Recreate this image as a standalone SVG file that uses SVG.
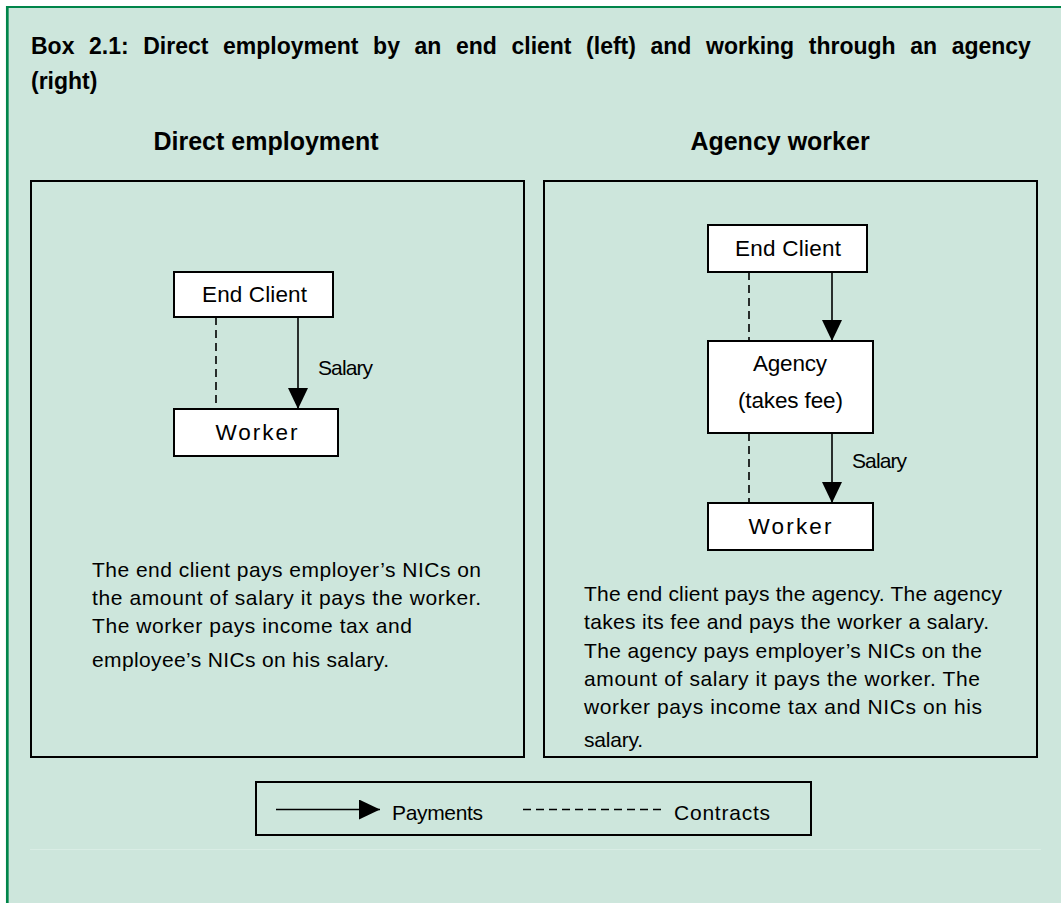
<svg xmlns="http://www.w3.org/2000/svg" width="1061" height="903" viewBox="0 0 1061 903">
<defs>
<style>
.t{font-family:"Liberation Sans",Arial,sans-serif;fill:#000;}
.title{font-size:23px;font-weight:bold;}
.head{font-size:25px;font-weight:bold;text-anchor:middle;}
.lbl{font-size:21px;}
.nl{font-size:22.5px;}
.mid{text-anchor:middle;}
.body{font-size:21px;}
.node{fill:#fff;stroke:#000;stroke-width:2;}
.panel{fill:none;stroke:#000;stroke-width:2;}
.pay{stroke:#000;stroke-width:1.6;fill:none;}
.con{stroke:#000;stroke-width:1.6;fill:none;stroke-dasharray:8 5;}
</style>
<marker id="ah" markerUnits="userSpaceOnUse" markerWidth="22" markerHeight="22" refX="21" refY="10" orient="auto" viewBox="0 0 22 22">
<path d="M0,0 L21,10 L0,20 Z" fill="#000"/>
</marker>
</defs>

<rect x="0" y="0" width="1061" height="903" fill="#ffffff"/>
<rect x="7" y="7" width="1054" height="896" fill="#cde6dc"/>
<line x1="6" y1="7" x2="1061" y2="7" stroke="#00854a" stroke-width="2"/>
<line x1="7.3" y1="6" x2="7.3" y2="903" stroke="#00854a" stroke-width="2.7"/>
<line x1="30" y1="849.5" x2="1041" y2="849.5" stroke="#d9ede5" stroke-width="1"/>

<g id="title">
<text class="t title" x="31" y="54" word-spacing="8.2">Box 2.1: Direct employment by an end client (left) and working through an agency</text>
<text class="t title" x="31" y="89">(right)</text>
</g>

<g id="panel-direct">
<text class="t head" x="266" y="150">Direct employment</text>
<rect class="panel" x="31" y="181" width="493" height="576"/>
<text class="t body" x="92" y="577" textLength="389">The end client pays employer’s NICs on</text>
<text class="t body" x="92" y="605" textLength="389">the amount of salary it pays the worker.</text>
<text class="t body" x="92" y="633" textLength="320">The worker pays income tax and</text>
<text class="t body" x="92" y="667" textLength="297">employee’s NICs on his salary.</text>
</g>

<g id="panel-agency">
<text class="t head" x="780" y="150">Agency worker</text>
<rect class="panel" x="544" y="181" width="493" height="576"/>
<text class="t body" x="584" y="601" textLength="418">The end client pays the agency. The agency</text>
<text class="t body" x="584" y="629" textLength="405">takes its fee and pays the worker a salary.</text>
<text class="t body" x="584" y="658" textLength="398">The agency pays employer’s NICs on the</text>
<text class="t body" x="584" y="686" textLength="396">amount of salary it pays the worker. The</text>
<text class="t body" x="584" y="714" textLength="398">worker pays income tax and NICs on his</text>
<text class="t body" x="584" y="747" textLength="59">salary.</text>
</g>

<g id="direct-end-client">
<rect class="node" x="174" y="272" width="159" height="45"/>
<text class="t nl mid" x="254.5" y="302" textLength="105">End Client</text>
</g>
<g id="direct-worker">
<rect class="node" x="174" y="409" width="164" height="47"/>
<text class="t nl mid" x="256.5" y="440" textLength="82">Worker</text>
</g>

<g id="agency-end-client">
<rect class="node" x="708" y="225" width="159" height="47"/>
<text class="t nl mid" x="788" y="256" textLength="106">End Client</text>
</g>
<g id="agency-agency">
<rect class="node" x="708" y="341" width="165" height="92"/>
<text class="t nl mid" x="790" y="371" textLength="74">Agency</text>
<text class="t nl mid" x="790.5" y="408" textLength="105">(takes fee)</text>
</g>
<g id="agency-worker">
<rect class="node" x="708" y="503" width="165" height="47"/>
<text class="t nl mid" x="790" y="534" textLength="83">Worker</text>
</g>

<g id="connectors">
<line class="pay" x1="298" y1="317" x2="298" y2="409" marker-end="url(#ah)"/>
<line class="con" x1="216" y1="317" x2="216" y2="409"/>
<text class="t lbl" x="318" y="375" textLength="55">Salary</text>
<line class="pay" x1="832" y1="272" x2="832" y2="341" marker-end="url(#ah)"/>
<line class="con" x1="749" y1="272" x2="749" y2="341"/>
<line class="pay" x1="832" y1="433" x2="832" y2="503" marker-end="url(#ah)"/>
<line class="con" x1="749" y1="433" x2="749" y2="503"/>
<text class="t lbl" x="852" y="468" textLength="55">Salary</text>
</g>

<g id="legend">
<rect class="panel" x="256" y="782" width="555" height="53"/>
<line class="pay" x1="276" y1="809.5" x2="380" y2="809.5" marker-end="url(#ah)"/>
<text class="t lbl" x="392" y="819.5" textLength="91">Payments</text>
<line class="con" x1="523" y1="809.5" x2="666" y2="809.5"/>
<text class="t lbl" x="674" y="819.5" textLength="96">Contracts</text>
</g>
</svg>
